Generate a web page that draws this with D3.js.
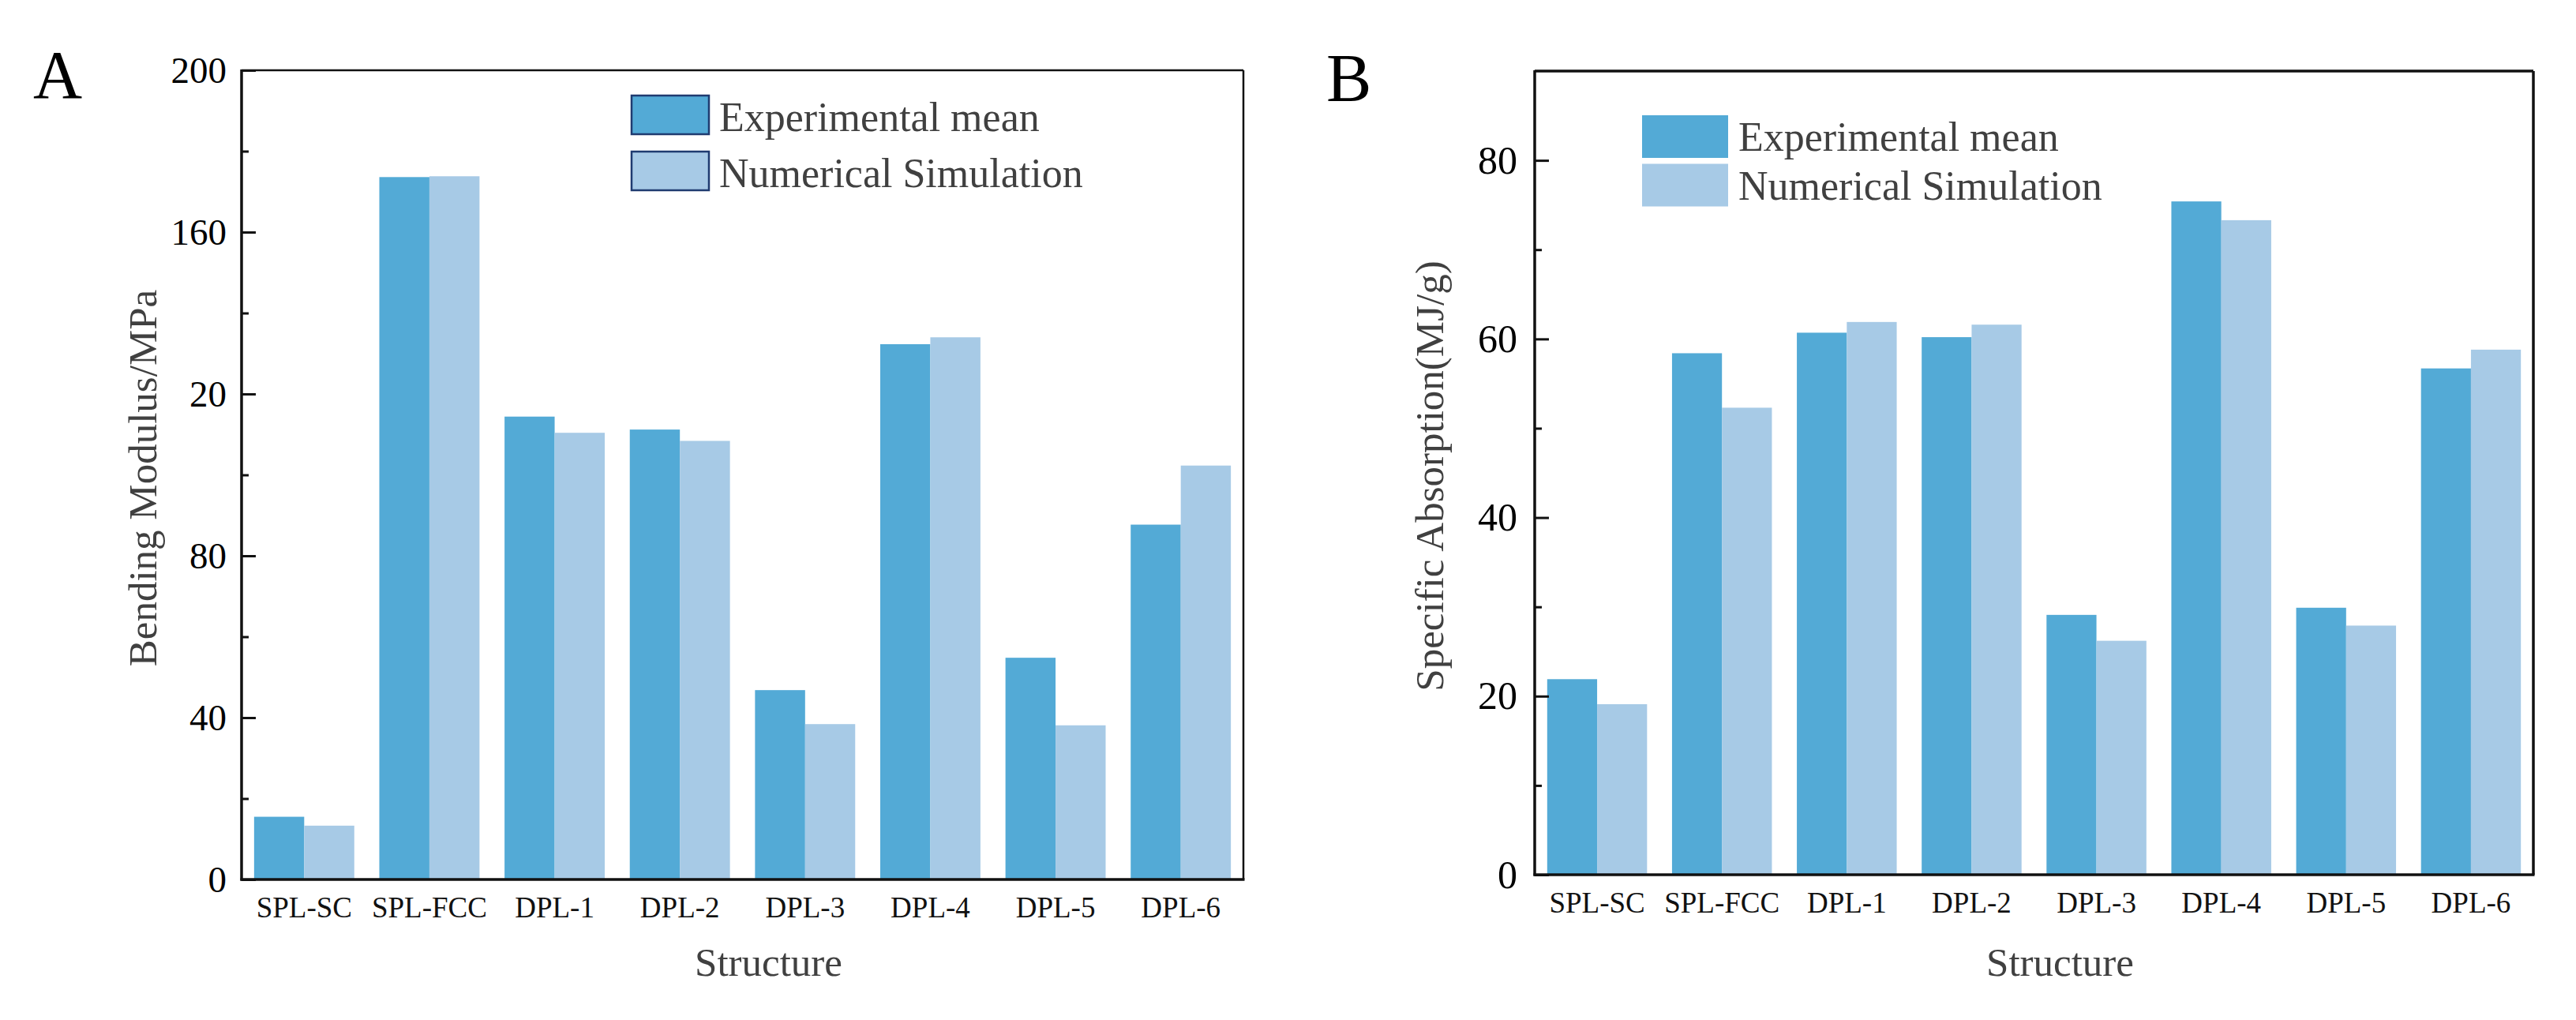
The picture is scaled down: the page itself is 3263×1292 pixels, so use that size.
<!DOCTYPE html>
<html>
<head>
<meta charset="utf-8">
<script src="https://cdn.jsdelivr.net/npm/d3@7"></script>
<style>
	body { margin: 0; background: #fff; }
	svg { display: block; font-family: 'Liberation Serif', 'Times New Roman', serif; }
</style>
</head>
<body>
<svg></svg>
<script>

const categories = ['SPL-SC', 'SPL-FCC', 'DPL-1', 'DPL-2', 'DPL-3', 'DPL-4', 'DPL-5', 'DPL-6']
const seriesNames = ['Experimental mean', 'Numerical Simulation']

// bending modulus (MPa)
const modulusExp = [15.5, 173.6, 114.4, 111.2, 46.8, 132.3, 54.8, 87.7]
const modulusSim = [13.3, 173.8, 110.4, 108.4, 38.4, 134.0, 38.1, 102.3]

// specific absorption (MJ/g)
const absorbExp = [21.9, 58.4, 60.7, 60.2, 29.1, 75.4, 29.9, 56.7]
const absorbSim = [19.1, 52.3, 61.9, 61.6, 26.2, 73.3, 27.9, 58.8]

const modulusTicks = [0, 40, 80, 120, 160, 200]
const modulusTickLabels = ['0', '40', '80', '20', '160', '200']
const modulusMinor = [20, 60, 100, 140, 180]

const absorbTicks = [0, 20, 40, 60, 80]
const absorbTickLabels = ['0', '20', '40', '60', '80']
const absorbMinor = [10, 30, 50, 70]

const colors = ['#53aad6', '#a7cae6']

let W = 3263, H = 1292

let svg = d3.select('svg')
	.attr('width', W)
	.attr('height', H)

const drawPanel = (p) => {

	let g = svg.append('g')

	let x = d3.scaleBand()
		.domain(categories)
		.range([p.left, p.right])

	let xs = d3.scaleBand()
		.domain(seriesNames)
		.range([0, x.bandwidth()])
		.paddingOuter(0.25)

	let y = d3.scaleLinear()
		.domain(p.domain)
		.range([p.bottom, p.top])

	let rows = categories.map((c, i) => ({ cat: c, vals: [p.exp[i], p.sim[i]] }))

	g.append('g')
		.selectAll('g')
		.data(rows).enter().append('g')
		.attr('transform', d => `translate(${x(d.cat)},0)`)
		.selectAll('rect')
		.data(d => d.vals.map((v, j) => ({ name: seriesNames[j], v: v, j: j })))
		.enter().append('rect')
		.attr('x', d => xs(d.name))
		.attr('width', xs.bandwidth())
		.attr('y', d => y(d.v))
		.attr('height', d => y(0) - y(d.v))
		.attr('fill', d => colors[d.j])

	// frame
	g.append('line').attr('x1', p.left).attr('x2', p.right).attr('y1', p.top).attr('y2', p.top)
		.attr('stroke', '#111').attr('stroke-width', p.frameW)
	g.append('line').attr('x1', p.right).attr('x2', p.right).attr('y1', p.top).attr('y2', p.bottom)
		.attr('stroke', '#111').attr('stroke-width', p.frameW)

	// minor ticks
	g.append('g')
		.attr('transform', `translate(${p.left},0)`)
		.call(d3.axisLeft(y).tickValues(p.minor).tickSize(-9).tickFormat(''))
		.call(a => a.select('.domain').remove())
		.selectAll('line').attr('stroke', '#111').attr('stroke-width', 3)

	// major ticks
	let yAx = d3.axisLeft(y)
		.tickValues(p.ticks)
		.tickSizeInner(-18)
		.tickSizeOuter(0)
		.tickPadding(p.tickPad)
		.tickFormat((d, i) => p.tickLabels[i])

	let ya = g.append('g')
		.attr('transform', `translate(${p.left},0)`)
		.call(yAx)
		.attr('font-family', null)
		.attr('font-size', p.tickFont)
	ya.select('.domain').remove()
	ya.selectAll('line').attr('stroke', '#111').attr('stroke-width', 3)
	ya.selectAll('text').attr('fill', '#000')

	// x axis
	let xa = g.append('g')
		.attr('transform', `translate(0,${p.bottom})`)
		.call(d3.axisBottom(x).tickSize(0))
		.attr('font-family', null)
		.attr('font-size', 37)
	xa.select('.domain').remove()
	xa.selectAll('text')
		.attr('fill', '#111')
		.attr('dy', 0)
		.attr('y', 48)

	// axis lines
	g.append('line').attr('x1', p.left).attr('x2', p.left).attr('y1', p.top - 1).attr('y2', p.bottom + 1.5)
		.attr('stroke', '#111').attr('stroke-width', 3.5)
	g.append('line').attr('x1', p.left - 1.5).attr('x2', p.right + 1.5).attr('y1', p.bottom).attr('y2', p.bottom)
		.attr('stroke', '#111').attr('stroke-width', 3.5)

	// titles
	g.append('text')
		.attr('x', (p.left + p.right) / 2 + 33)
		.attr('y', 1236)
		.attr('text-anchor', 'middle')
		.attr('font-size', 51)
		.attr('fill', '#404040')
		.text('Structure')

	g.append('text')
		.attr('transform', `translate(${p.ytX},${(p.top + p.bottom) / 2 + 4}) rotate(-90)`)
		.attr('text-anchor', 'middle')
		.attr('font-size', 51)
		.attr('fill', '#404040')
		.text(p.yTitle)

	g.append('text')
		.attr('x', p.letterX)
		.attr('y', p.letterY)
		.attr('font-size', 86)
		.attr('fill', '#000')
		.text(p.letter)

	// legend
	let lg = g.append('g')
		.selectAll('g')
		.data(seriesNames).enter().append('g')
		.attr('transform', (d, i) => `translate(${p.legX},${p.legY + i * p.legStep})`)

	lg.append('rect')
		.attr('width', p.boxW)
		.attr('height', p.boxH)
		.attr('fill', (d, i) => colors[i])
		.attr('stroke', p.boxStroke)
		.attr('stroke-width', p.boxStroke === 'none' ? 0 : 2.5)

	lg.append('text')
		.attr('x', p.boxW + 13)
		.attr('y', 45)
		.attr('font-size', 52)
		.attr('fill', '#404040')
		.text(d => d)
}

drawPanel({
	left: 306, right: 1575, top: 89, bottom: 1114,
	domain: [0, 200], exp: modulusExp, sim: modulusSim,
	ticks: modulusTicks, tickLabels: modulusTickLabels, minor: modulusMinor,
	tickPad: 19, tickFont: 47, frameW: 2.5,
	yTitle: 'Bending Modulus/MPa', ytX: 198,
	letter: 'A', letterX: 42, letterY: 124,
	legX: 800, legY: 121, legStep: 71, boxW: 98, boxH: 49, boxStroke: '#1f3b70'
})

drawPanel({
	left: 1944, right: 3209, top: 90, bottom: 1108,
	domain: [0, 90], exp: absorbExp, sim: absorbSim,
	ticks: absorbTicks, tickLabels: absorbTickLabels, minor: absorbMinor,
	tickPad: 22, tickFont: 50, frameW: 3.5,
	yTitle: 'Specific Absorption(MJ/g)', ytX: 1828,
	letter: 'B', letterX: 1680, letterY: 128,
	legX: 2080, legY: 146, legStep: 61.5, boxW: 109, boxH: 54, boxStroke: 'none'
})

</script>
</body>
</html>
